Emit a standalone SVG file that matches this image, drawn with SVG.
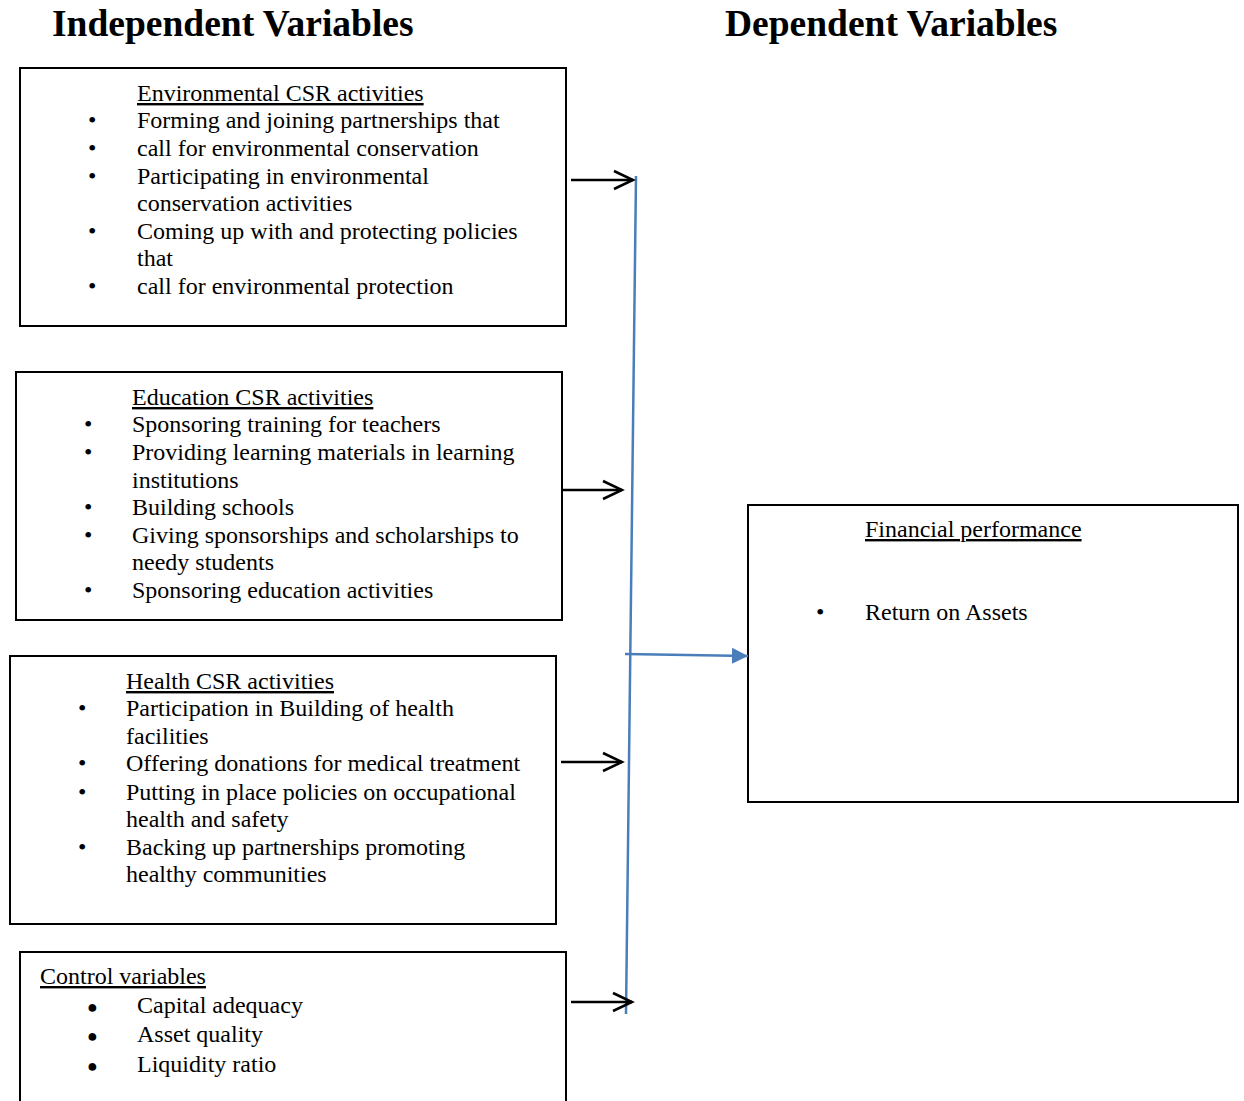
<svg xmlns="http://www.w3.org/2000/svg" width="1244" height="1101" viewBox="0 0 1244 1101">
<style>
text{font-family:"Liberation Serif","Times New Roman",serif;font-size:24px;fill:#000}
.h{font-size:37.5px;font-weight:bold}
.u{text-decoration:underline}
.box{fill:#fff;stroke:#000;stroke-width:2}
.blk{stroke:#000;stroke-width:2.5;fill:none}
.blue{stroke:#4a7ebb;stroke-width:2.5;fill:none}
.dot{font-size:18px}
</style>
<defs>
<marker id="open" viewBox="-22 -12 24 24" refX="0" refY="0" markerWidth="24" markerHeight="24" markerUnits="userSpaceOnUse" orient="auto" overflow="visible"><path d="M-19,-9 L0,0 L-19,9" fill="none" stroke="#000" stroke-width="2.5"/></marker>
<marker id="tri" viewBox="0 0 16 16" refX="16" refY="8" markerWidth="16" markerHeight="16" markerUnits="userSpaceOnUse" orient="auto"><path d="M0,0 L16,8 L0,16 Z" fill="#4a7ebb"/></marker>
</defs>
<text class="h" x="52" y="36">Independent Variables</text>
<text class="h" x="725" y="36">Dependent Variables</text>
<g id="env">
<rect class="box" x="20" y="68" width="546" height="258"/>
<text class="u" x="137" y="101">Environmental CSR activities</text>
<text x="88" y="128">•</text><text x="137" y="128">Forming and joining partnerships that</text>
<text x="88" y="156">•</text><text x="137" y="156">call for environmental conservation</text>
<text x="88" y="184">•</text><text x="137" y="184">Participating in environmental</text>
<text x="137" y="211">conservation activities</text>
<text x="88" y="239">•</text><text x="137" y="239">Coming up with and protecting policies</text>
<text x="137" y="266">that</text>
<text x="88" y="294">•</text><text x="137" y="294">call for environmental protection</text>
</g>
<g id="edu">
<rect class="box" x="16" y="372" width="546" height="248"/>
<text class="u" x="132" y="405">Education CSR activities</text>
<text x="84" y="432">•</text><text x="132" y="432">Sponsoring training for teachers</text>
<text x="84" y="460">•</text><text x="132" y="460">Providing learning materials in learning</text>
<text x="132" y="488">institutions</text>
<text x="84" y="515">•</text><text x="132" y="515">Building schools</text>
<text x="84" y="543">•</text><text x="132" y="543">Giving sponsorships and scholarships to</text>
<text x="132" y="570">needy students</text>
<text x="84" y="598">•</text><text x="132" y="598">Sponsoring education activities</text>
</g>
<g id="health">
<rect class="box" x="10" y="656" width="546" height="268"/>
<text class="u" x="126" y="689">Health CSR activities</text>
<text x="78" y="716">•</text><text x="126" y="716">Participation in Building of health</text>
<text x="126" y="744">facilities</text>
<text x="78" y="771">•</text><text x="126" y="771">Offering donations for medical treatment</text>
<text x="78" y="800">•</text><text x="126" y="800">Putting in place policies on occupational</text>
<text x="126" y="827">health and safety</text>
<text x="78" y="855">•</text><text x="126" y="855">Backing up partnerships promoting</text>
<text x="126" y="882">healthy communities</text>
</g>
<g id="control">
<rect class="box" x="20" y="952" width="546" height="160"/>
<text class="u" x="40" y="984">Control variables</text>
<text x="87" y="1013" class="dot">●</text><text x="137" y="1013">Capital adequacy</text>
<text x="87" y="1042" class="dot">●</text><text x="137" y="1042">Asset quality</text>
<text x="87" y="1072" class="dot">●</text><text x="137" y="1072">Liquidity ratio</text>
</g>
<g id="fin">
<rect class="box" x="748" y="505" width="490" height="297"/>
<text class="u" x="865" y="537">Financial performance</text>
<text x="816" y="620">•</text><text x="865" y="620">Return on Assets</text>
</g>
<g id="connectors">
<line class="blue" x1="636" y1="176" x2="626" y2="1014"/>
<line class="blue" x1="625" y1="654" x2="748" y2="656" marker-end="url(#tri)"/>
<line class="blk" x1="571" y1="180" x2="633" y2="180" marker-end="url(#open)"/>
<line class="blk" x1="563" y1="490" x2="622" y2="490" marker-end="url(#open)"/>
<line class="blk" x1="561" y1="762" x2="622" y2="762" marker-end="url(#open)"/>
<line class="blk" x1="571" y1="1002" x2="632" y2="1002" marker-end="url(#open)"/>
</g>
</svg>
